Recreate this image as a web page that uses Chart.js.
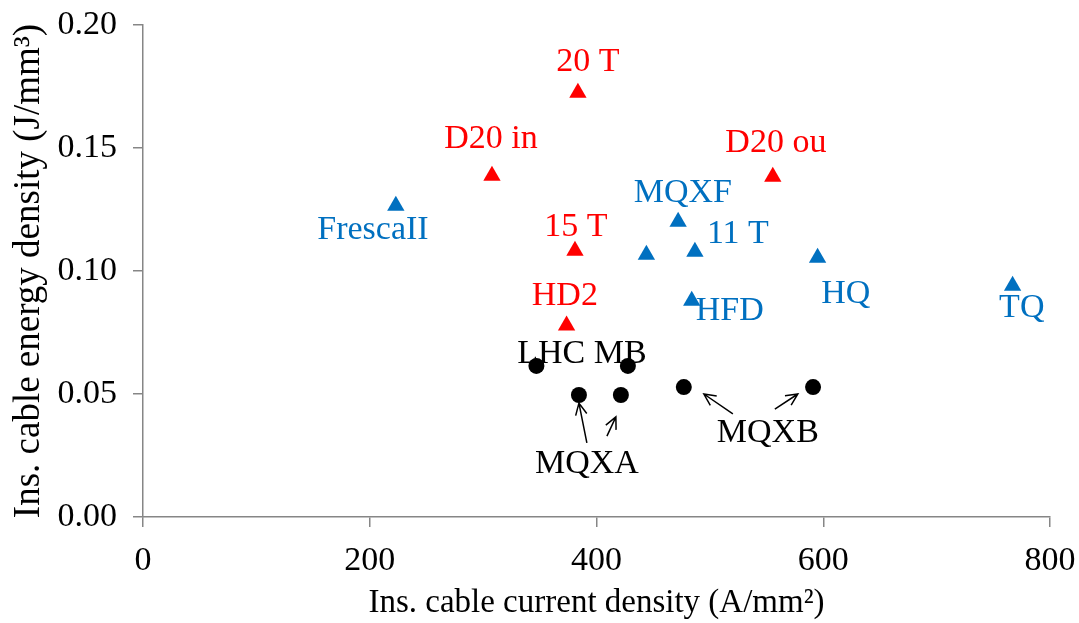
<!DOCTYPE html>
<html lang="en">
<head>
  <meta charset="UTF-8">
  <title>Insulated cable energy density vs current density</title>
  <script src="https://cdn.jsdelivr.net/npm/chart.js"></script>
  <style>
    body {
      margin: 0;
      background-color: #ffffff;
    }
    #chart {
      display: block;
    }
  </style>
</head>
<body>
  <canvas id="chart" width="1079" height="623"></canvas>

  <script>
    // Values
    const redNames = ["D20 in", "20 T", "D20 ou", "15 T", "HD2"];
    const redX = [307.8, 383.6, 555.5, 381.0, 373.6];
    const redY = [0.1387, 0.1725, 0.1383, 0.1082, 0.0778];

    const blueNames = ["FrescaII", "", "MQXF", "11 T", "HFD", "HQ", "TQ"];
    const blueX = [223.0, 444.0, 472.0, 486.8, 484.0, 595.0, 767.0];
    const blueY = [0.1265, 0.1066, 0.1200, 0.1078, 0.0879, 0.1054, 0.0940];

    const blackNames = ["LHC MB", "LHC MB", "MQXA", "MQXA", "MQXB", "MQXB"];
    const blackX = [347.0, 427.7, 384.5, 421.5, 477.0, 591.0];
    const blackY = [0.0614, 0.0614, 0.0496, 0.0496, 0.0528, 0.0528];

    const xTicks = [0, 200, 400, 600, 800];
    const yTicks = [0, 0.05, 0.10, 0.15, 0.20];
    const yTickLabels = ["0.00", "0.05", "0.10", "0.15", "0.20"];

    const RED = "#ff0000";
    const BLUE = "#0070c0";
    const GREY = "#868686";
    const FONT = "'Liberation Serif', 'Times New Roman', serif";

    const toPoints = (xs, ys) => xs.map((x, i) => ({ x: x, y: ys[i] }));

    // text labels and arrows, placed in data units
    const notes = [
      { text: "20 T", x: 392.4, y: 0.1813, color: RED },
      { text: "D20 in", x: 306.9, y: 0.1500, color: RED },
      { text: "D20 ou", x: 558.2, y: 0.1484, color: RED },
      { text: "15 T", x: 381.8, y: 0.1142, color: RED },
      { text: "HD2", x: 372.1, y: 0.0862, color: RED },
      { text: "FrescaII", x: 202.8, y: 0.1130, color: BLUE },
      { text: "MQXF", x: 476.2, y: 0.1280, color: BLUE },
      { text: "11 T", x: 524.7, y: 0.1114, color: BLUE },
      { text: "HFD", x: 517.6, y: 0.0801, color: BLUE },
      { text: "HQ", x: 619.9, y: 0.0870, color: BLUE },
      { text: "TQ", x: 775.1, y: 0.0813, color: BLUE },
      { text: "LHC MB", x: 387.1, y: 0.0626, color: "#000" },
      { text: "MQXA", x: 391.5, y: 0.0179, color: "#000" },
      { text: "MQXB", x: 551.1, y: 0.0305, color: "#000" }
    ];
    const arrows = [
      { x0: 391.5, y0: 0.0301, x1: 384.5, y1: 0.0463 },
      { x0: 409.2, y0: 0.0329, x1: 417.1, y1: 0.0407 },
      { x0: 520.3, y0: 0.0419, x1: 494.7, y1: 0.0500 },
      { x0: 557.3, y0: 0.0439, x1: 577.6, y1: 0.0500 }
    ];

    const notesPlugin = {
      id: "notes",
      afterDatasetsDraw(chart) {
        const { ctx, scales: { x, y } } = chart;
        ctx.save();
        ctx.font = "34px " + FONT;
        ctx.textAlign = "center";
        ctx.textBaseline = "alphabetic";
        notes.forEach(n => {
          ctx.fillStyle = n.color;
          ctx.fillText(n.text, x.getPixelForValue(n.x), y.getPixelForValue(n.y));
        });

        ctx.strokeStyle = "#000";
        ctx.lineWidth = 1.5;
        arrows.forEach(a => {
          const px0 = x.getPixelForValue(a.x0), py0 = y.getPixelForValue(a.y0);
          const px1 = x.getPixelForValue(a.x1), py1 = y.getPixelForValue(a.y1);
          const ang = Math.atan2(py1 - py0, px1 - px0);
          const head = 13;
          ctx.beginPath();
          ctx.moveTo(px0, py0);
          ctx.lineTo(px1, py1);
          ctx.moveTo(px1 - head * Math.cos(ang - 0.45), py1 - head * Math.sin(ang - 0.45));
          ctx.lineTo(px1, py1);
          ctx.lineTo(px1 - head * Math.cos(ang + 0.45), py1 - head * Math.sin(ang + 0.45));
          ctx.stroke();
        });
        ctx.restore();
      }
    };

    const ctx = document.getElementById("chart").getContext("2d");
    const chart = new Chart(ctx, {
      type: "scatter",
      data: {
        datasets: [
          {
            label: "Black",
            data: toPoints(blackX, blackY),
            pointStyle: "circle",
            radius: 8,
            backgroundColor: "#000",
            borderColor: "#000",
            borderWidth: 0
          },
          {
            label: "Blue",
            data: toPoints(blueX, blueY),
            pointStyle: "triangle",
            radius: 10,
            backgroundColor: BLUE,
            borderColor: BLUE,
            borderWidth: 0
          },
          {
            label: "Red",
            data: toPoints(redX, redY),
            pointStyle: "triangle",
            radius: 10,
            backgroundColor: RED,
            borderColor: RED,
            borderWidth: 0
          }
        ]
      },
      options: {
        responsive: false,
        animation: false,
        devicePixelRatio: 1,
        layout: {
          padding: { left: 0, right: 29, top: 25, bottom: 0 }
        },
        scales: {
          x: {
            type: "linear",
            min: 0,
            max: 800,
            afterFit: scale => {
              scale.height = 106;
              scale.paddingLeft = 0;
              scale.paddingRight = 0;
            },
            afterBuildTicks: scale => { scale.ticks = xTicks.map(v => ({ value: v })); },
            border: { color: GREY, width: 1.5 },
            grid: {
              drawOnChartArea: false,
              color: GREY,
              lineWidth: 1.5,
              tickLength: 10
            },
            ticks: {
              color: "#000",
              padding: 14,
              font: { family: FONT, size: 34 },
              maxRotation: 0
            },
            title: {
              display: true,
              text: "Ins. cable current density (A/mm²)",
              color: "#000",
              font: { family: FONT, size: 33 },
              padding: { top: 0, bottom: 0 }
            }
          },
          y: {
            type: "linear",
            min: 0,
            max: 0.2,
            afterFit: scale => {
              scale.width = 143;
              scale.paddingTop = 0;
              scale.paddingBottom = 0;
            },
            afterBuildTicks: scale => { scale.ticks = yTicks.map(v => ({ value: v })); },
            border: { color: GREY, width: 1.5 },
            grid: {
              drawOnChartArea: false,
              color: GREY,
              lineWidth: 1.5,
              tickLength: 10
            },
            ticks: {
              color: "#000",
              padding: 16,
              font: { family: FONT, size: 34 },
              callback: (value, index) => yTickLabels[index]
            },
            title: {
              display: true,
              text: "Ins. cable energy density (J/mm³)",
              color: "#000",
              font: { family: FONT, size: 37 },
              padding: { top: 7, bottom: 0 }
            }
          }
        },
        plugins: {
          legend: { display: false },
          tooltip: { enabled: false }
        }
      },
      plugins: [notesPlugin]
    });
  </script>
</body>
</html>
